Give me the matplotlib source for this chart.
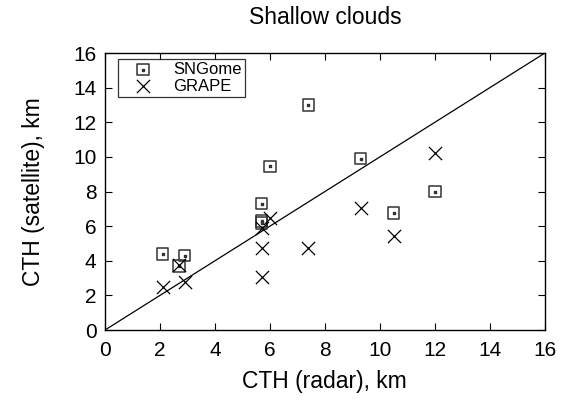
import matplotlib.pyplot as plt
import numpy as np

# SNGome retrievals vs radar
sngome_radar = [2.1, 2.9, 2.7, 5.7, 5.7, 5.7, 6.0, 7.4, 9.3, 10.5, 12.0]
sngome_sat = [4.4, 4.3, 3.7, 7.3, 6.2, 6.3, 9.45, 13.0, 9.9, 6.75, 8.0]

# GRAPE retrievals vs radar
grape_radar = [2.1, 2.9, 2.7, 5.7, 5.7, 5.7, 6.0, 7.4, 9.3, 10.5, 12.0]
grape_sat = [2.5, 2.75, 3.75, 5.9, 4.75, 3.05, 6.45, 4.75, 7.05, 5.45, 10.2]

ticks = [0, 2, 4, 6, 8, 10, 12, 14, 16]

plt.rcParams['font.family'] = ['Liberation Sans', 'DejaVu Sans']

fig = plt.figure(figsize=(5.64, 4.05), dpi=100)
ax = fig.add_axes([0.186, 0.185, 0.78, 0.684])

ax.plot([0, 16], [0, 16], color='black', lw=0.9)

sq = ax.scatter(sngome_radar, sngome_sat, marker='s', s=70, facecolors='none',
                edgecolors='#333333', linewidths=1.1, zorder=3)
dot = ax.scatter(sngome_radar, sngome_sat, marker='s', s=1.5, color='#333333', zorder=3)
cross = ax.scatter(grape_radar, grape_sat, marker='x', s=90, color='black',
                   linewidths=0.9, zorder=3)

ax.set_xlim(0, 16)
ax.set_ylim(0, 16)
ax.set_xticks(ticks)
ax.set_yticks(ticks)
ax.tick_params(direction='in', top=True, right=True, labelsize=15, length=5, width=0.8)
ax.tick_params(axis='x', pad=8)
ax.tick_params(axis='y', pad=6)
for s in ax.spines.values():
    s.set_linewidth(1.0)

ax.set_xlabel("CTH (radar), km", fontsize=16.5, labelpad=7)
ax.set_ylabel("CTH (satellite), km", fontsize=16.5, labelpad=20)
ax.set_title("Shallow clouds", fontsize=16.5, pad=21)

leg = ax.legend([(sq, dot), cross], ["SNGome", "GRAPE"], loc='upper left',
                bbox_to_anchor=(0.03, 0.98), fontsize=12, frameon=True,
                fancybox=False, edgecolor='black', handlelength=2.6,
                handletextpad=0.5, borderpad=0.2, labelspacing=0.1,
                borderaxespad=0)
leg.get_frame().set_linewidth(0.9)

fig.savefig("out.png", dpi=100)
